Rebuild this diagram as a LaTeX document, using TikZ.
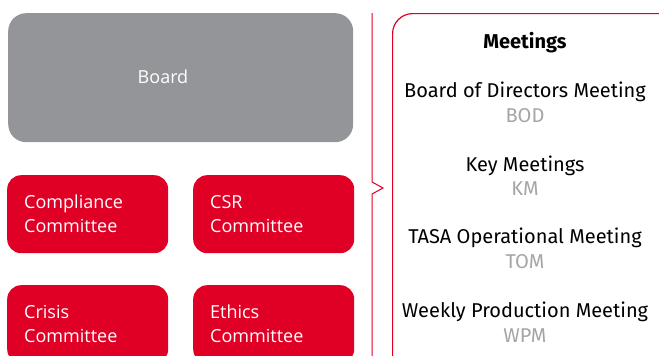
\documentclass[tikz,border=0pt]{standalone}
\usepackage{fontspec}
\setmainfont{Open Sans}
\newfontfamily\meetfont{Fira Sans}
\definecolor{tasared}{RGB}{224, 0, 38}
\definecolor{boardgrey}{RGB}{148, 149, 153}
\definecolor{abbrgrey}{RGB}{165, 165, 165}
\usetikzlibrary{positioning}

\begin{document}
\begin{tikzpicture}[x=1pt, y=-1pt,
    committee/.style={fill=tasared, rounded corners=14pt, minimum width=161pt, minimum height=78pt,
      text width=127pt, inner xsep=17pt, align=left, text=white, anchor=north west,
      font=\fontsize{18}{24}\selectfont},
    meeting/.style={align=center, font=\meetfont\fontsize{20}{24.5}\selectfont}]
  \useasboundingbox (0,0) rectangle (659,356);
  \clip (0,0) rectangle (659,356);
  % left side: board and committees
  \node[fill=boardgrey, rounded corners=18pt, minimum width=345pt, minimum height=129pt, anchor=north west] (board) at (8,13) {};
  \node[text=white, font=\fontsize{18}{20}\selectfont] (boardtext) at (163,77) {Board};
  \node[committee] (compliance) at (7,175) {Compliance\\Committee};
  \node[committee] (csr) at (193,175) {CSR\\Committee};
  \node[committee] (crisis) at (7,285) {Crisis\\Committee};
  \node[committee] (ethics) at (193,285) {Ethics\\Committee};
  % brace
  \coordinate (bracetop) at (372,13);
  \coordinate (bracetip) at (383,188);
  \draw[tasared, line width=1pt] (bracetop) -- (372,182) -- (bracetip) -- (372,194) -- (372,360);
  % meetings
  \node[draw=tasared, line width=1.2pt, rounded corners=20pt, minimum width=290pt, minimum height=370pt, anchor=north west] (meetings) at (392,13) {};
  \node[meeting, font=\meetfont\bfseries\fontsize{20}{22}\selectfont] (title) at (525,43) {Meetings};
  \node[meeting] (bod) at (525,102.5) {Board of Directors Meeting\\{\color{abbrgrey}BOD}};
  \node[meeting] (km) at (525,175.5) {Key Meetings\\{\color{abbrgrey}KM}};
  \node[meeting] (tom) at (525,248.5) {TASA Operational Meeting\\{\color{abbrgrey}TOM}};
  \node[meeting] (wpm) at (525,322) {Weekly Production Meeting\\{\color{abbrgrey}WPM}};
\end{tikzpicture}
\end{document}
